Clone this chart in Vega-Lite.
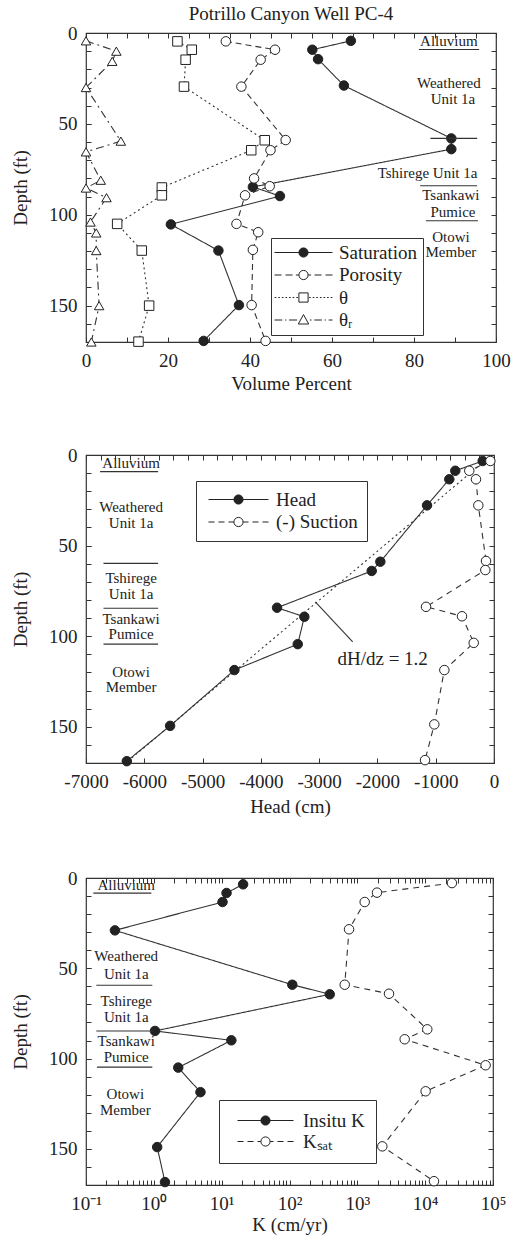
{
  "$schema": "https://vega.github.io/schema/vega-lite/v6.json",
  "background": "white",
  "padding": {"left": 10, "top": 4, "right": 20, "bottom": 0},
  "spacing": 51,
  "resolve": {"scale": {"fill": "independent", "shape": "independent"}, "legend": {"fill": "independent", "shape": "independent"}},
  "config": {
    "font": "Liberation Serif",
    "view": {"stroke": "#333", "strokeWidth": 1.2},
    "axis": {"grid": false, "domain": false, "tickColor": "#333", "tickSize": -5, "labelPadding": 14, "labelFontSize": 19, "labelColor": "#222", "labelFont": "Liberation Serif", "titleFont": "Liberation Serif", "titleFontSize": 19, "titleFontWeight": "normal", "titleColor": "#222", "labelFlush": false, "labelOverlap": false, "labelBound": false},
    "axisY": {"titlePadding": 18},
    "legend": {"labelFont": "Liberation Serif", "labelFontSize": 19, "labelColor": "#222", "strokeColor": "#333", "fillColor": "white", "symbolSize": 64, "symbolStrokeWidth": 1},
    "text": {"font": "Liberation Serif", "fontSize": 15, "color": "#222"}
  },
  "vconcat": [
    {
      "width": 410, "height": 309,
      "title": {"text": "Potrillo Canyon Well PC-4", "fontSize": 19, "fontWeight": "normal", "offset": 0, "color": "#222", "font": "Liberation Serif"},
      "resolve": {"axis": {"x": "independent", "y": "independent"}},
      "layer": [
        {
          "layer": [
            {
              "data": {"values": [
                {"s": "Saturation", "v": 64.6, "d": 4.3}, {"s": "Saturation", "v": 55.2, "d": 9.2}, {"s": "Saturation", "v": 56.6, "d": 14.4}, {"s": "Saturation", "v": 62.9, "d": 28.9}, {"s": "Saturation", "v": 89.1, "d": 58}, {"s": "Saturation", "v": 89.1, "d": 63.9}, {"s": "Saturation", "v": 40.7, "d": 84.7}, {"s": "Saturation", "v": 47.3, "d": 89.7}, {"s": "Saturation", "v": 20.7, "d": 105.3}, {"s": "Saturation", "v": 32.3, "d": 119.7}, {"s": "Saturation", "v": 37.3, "d": 149.7}, {"s": "Saturation", "v": 28.7, "d": 169.4},
                {"s": "Porosity", "v": 34.1, "d": 4.6}, {"s": "Porosity", "v": 46.1, "d": 9.2}, {"s": "Porosity", "v": 42.6, "d": 14.7}, {"s": "Porosity", "v": 37.9, "d": 29.5}, {"s": "Porosity", "v": 48.7, "d": 58.9}, {"s": "Porosity", "v": 45, "d": 64.5}, {"s": "Porosity", "v": 41, "d": 80}, {"s": "Porosity", "v": 44.8, "d": 84.3}, {"s": "Porosity", "v": 38.8, "d": 89.3}, {"s": "Porosity", "v": 36.7, "d": 105}, {"s": "Porosity", "v": 42, "d": 109.6}, {"s": "Porosity", "v": 40.7, "d": 119.3}, {"s": "Porosity", "v": 40.4, "d": 149.7}, {"s": "Porosity", "v": 43.8, "d": 169.4},
                {"s": "θ", "v": 22.3, "d": 4.6}, {"s": "θ", "v": 25.8, "d": 9.2}, {"s": "θ", "v": 24.3, "d": 14.7}, {"s": "θ", "v": 23.9, "d": 29.5}, {"s": "θ", "v": 43.6, "d": 59}, {"s": "θ", "v": 40.3, "d": 64.5}, {"s": "θ", "v": 18.5, "d": 85}, {"s": "θ", "v": 18.5, "d": 89.3}, {"s": "θ", "v": 7.6, "d": 105}, {"s": "θ", "v": 13.6, "d": 119.7}, {"s": "θ", "v": 15.4, "d": 150}, {"s": "θ", "v": 12.8, "d": 169.8},
                {"s": "θᵣ", "v": 0, "d": 4.3}, {"s": "θᵣ", "v": 7.4, "d": 10}, {"s": "θᵣ", "v": 6.4, "d": 15.6}, {"s": "θᵣ", "v": 0, "d": 30}, {"s": "θᵣ", "v": 8.5, "d": 59.5}, {"s": "θᵣ", "v": 0, "d": 65.4}, {"s": "θᵣ", "v": 3.6, "d": 81}, {"s": "θᵣ", "v": 0, "d": 85.3}, {"s": "θᵣ", "v": 5, "d": 90.6}, {"s": "θᵣ", "v": 1.1, "d": 104}, {"s": "θᵣ", "v": 2.5, "d": 110}, {"s": "θᵣ", "v": 2.5, "d": 119.7}, {"s": "θᵣ", "v": 3.2, "d": 150}, {"s": "θᵣ", "v": 1.3, "d": 170}
              ]},
              "layer": [
                {
                  "mark": {"type": "line", "strokeWidth": 1.1, "color": "#333"},
                  "encoding": {
                    "x": {"field": "v", "type": "quantitative", "scale": {"domain": [0, 100], "nice": false, "zero": false}, "axis": {"orient": "bottom", "title": "Volume Percent", "values": [0,5,10,15,20,25,30,35,40,45,50,55,60,65,70,75,80,85,90,95,100], "labelExpr": "datum.value % 20 === 0 ? datum.label : ''"}},
                    "y": {"field": "d", "type": "quantitative", "scale": {"domain": [0, 170], "reverse": true, "nice": false, "zero": false}, "axis": {"orient": "left", "title": "Depth (ft)", "values": [0, 50, 100, 150]}},
                    "detail": {"field": "s"},
                    "order": {"field": "d", "type": "quantitative"},
                    "strokeDash": {"condition": [
                      {"test": "datum.s === 'Porosity'", "value": [6, 4]},
                      {"test": "datum.s === 'θ'", "value": [2, 3]},
                      {"test": "datum.s === 'θᵣ'", "value": [8, 4, 2, 4]}
                    ], "value": [1, 0]}
                  }
                },
                {
                  "mark": {"type": "point", "size": 90, "strokeWidth": 1, "stroke": "#222", "opacity": 1},
                  "encoding": {
                    "x": {"field": "v", "type": "quantitative"},
                    "y": {"field": "d", "type": "quantitative"},
                    "shape": {"condition": [
                      {"test": "datum.s === 'θ'", "value": "square"},
                      {"test": "datum.s === 'θᵣ'", "value": "triangle-up"}
                    ], "value": "circle"},
                    "fill": {"condition": {"test": "datum.s === 'Saturation'", "value": "#222"}, "value": "white"}
                  }
                }
              ]
            },
            {
              "data": {"values": [{"s": "Saturation"}, {"s": "Porosity"}, {"s": "θ"}, {"s": "θᵣ"}]},
              "transform": [{"filter": "false"}],
              "mark": {"type": "point", "stroke": "#222", "strokeWidth": 1, "opacity": 1},
              "encoding": {
                "shape": {"field": "s", "type": "nominal", "scale": {"domain": ["Saturation", "Porosity", "θ", "θᵣ"], "range": [
                  "M-7.25,0H-1.15M1.15,0H7.25M-1.15,0A1.15,1.15,0,1,1,1.15,0A1.15,1.15,0,1,1,-1.15,0Z",
                  "M-7.25,0H-5.5M-4.5,0H-2.75M-1.9,0H-1.15M1.15,0H1.9M2.75,0H4.5M5.5,0H7.25M-1.15,0A1.15,1.15,0,1,1,1.15,0A1.15,1.15,0,1,1,-1.15,0Z",
                  "M-7.2,0H-6.8M-6.3,0H-5.9M-5.4,0H-5M-4.5,0H-4.1M-3.6,0H-3.2M-2.7,0H-2.3M-1.8,0H-1.4M1.4,0H1.8M2.3,0H2.7M3.2,0H3.6M4.1,0H4.5M5,0H5.4M5.9,0H6.3M6.8,0H7.2M-1.15,-1.15H1.15V1.15H-1.15Z",
                  "M-7.25,0H-5.3M-4.6,0H-4.3M-3.6,0H-1.6M1.6,0H2M2.7,0H4.6M5.3,0H5.6M6.3,0H7.25M0,-1.35L1.3,1H-1.3Z"
                ]},
                  "legend": {"orient": "none", "legendX": 185, "legendY": 205, "title": null, "padding": 5, "rowPadding": 2.5, "symbolOffset": 18, "labelOffset": 26, "symbolSize": 64, "symbolStrokeWidth": 1, "symbolOpacity": 1,
                    "encode": {"symbols": {"stroke": {"value": "#222"}, "strokeWidth": {"value": 1}}}}},
                "fill": {"field": "s", "type": "nominal", "scale": {"domain": ["Saturation", "Porosity", "θ", "θᵣ"], "range": ["#222", "white", "white", "white"]},
                  "legend": {"orient": "none", "legendX": 185, "legendY": 205, "title": null, "padding": 5, "rowPadding": 2.5, "symbolOffset": 18, "labelOffset": 26, "symbolSize": 64, "symbolStrokeWidth": 1, "symbolOpacity": 1,
                    "encode": {"symbols": {"stroke": {"value": "#222"}, "strokeWidth": {"value": 1}}}}}
              }
            },
            {
              "data": {"values": [
                {"t": "Alluvium", "v": 88.5, "d": 4.2},
                {"t": "Weathered", "v": 88.5, "d": 27.6},
                {"t": "Unit 1a", "v": 89.5, "d": 36.3},
                {"t": "Tshirege Unit 1a", "v": 83.3, "d": 76.8},
                {"t": "Tsankawi", "v": 89, "d": 89.3},
                {"t": "Pumice", "v": 89.5, "d": 98.3},
                {"t": "Otowi", "v": 89, "d": 112},
                {"t": "Member", "v": 89, "d": 120.3}
              ]},
              "mark": {"type": "text", "align": "center", "baseline": "middle"},
              "encoding": {
                "x": {"field": "v", "type": "quantitative"},
                "y": {"field": "d", "type": "quantitative"},
                "text": {"field": "t"}
              }
            },
            {
              "data": {"values": [
                {"v": 81.2, "v2": 95.9, "d": 9.1},
                {"v": 81.5, "v2": 95.4, "d": 84},
                {"v": 82.9, "v2": 95.6, "d": 103.3},
                {"v": 84, "v2": 95.4, "d": 58}
              ]},
              "mark": {"type": "rule", "color": "#333", "strokeWidth": 1.1},
              "encoding": {
                "x": {"field": "v", "type": "quantitative"},
                "x2": {"field": "v2"},
                "y": {"field": "d", "type": "quantitative"}
              }
            }
          ]
        },
        {
          "data": {"values": [{"v": 0, "d": 0}]},
          "mark": {"type": "point", "opacity": 0},
          "encoding": {
            "x": {"field": "v", "type": "quantitative", "axis": {"orient": "top", "labels": false, "title": null, "values": [0,5,10,15,20,25,30,35,40,45,50,55,60,65,70,75,80,85,90,95,100]}},
            "y": {"field": "d", "type": "quantitative", "axis": {"orient": "right", "labels": false, "title": null, "values": [0,10,20,30,40,50,60,70,80,90,100,110,120,130,140,150,160,170]}}
          }
        },
        {
          "data": {"values": [{"d": 0}]},
          "mark": {"type": "point", "opacity": 0},
          "encoding": {
            "y": {"field": "d", "type": "quantitative", "axis": {"orient": "left", "labels": false, "title": null, "values": [0,10,20,30,40,50,60,70,80,90,100,110,120,130,140,150,160,170]}}
          }
        }
      ]
    },
    {
      "width": 408, "height": 308,
      "resolve": {"axis": {"x": "independent", "y": "independent"}},
      "layer": [
        {
          "layer": [
            {
              "data": {"values": [{"v": -150, "d": 3}, {"v": -6300, "d": 169.5}]},
              "mark": {"type": "line", "strokeWidth": 1.1, "color": "#333", "strokeDash": [2, 3]},
              "encoding": {
                "x": {"field": "v", "type": "quantitative", "scale": {"domain": [-7000, 0], "nice": false, "zero": false}, "axis": {"orient": "bottom", "title": "Head (cm)", "titlePadding": 6, "values": [-7000,-6750,-6500,-6250,-6000,-5750,-5500,-5250,-5000,-4750,-4500,-4250,-4000,-3750,-3500,-3250,-3000,-2750,-2500,-2250,-2000,-1750,-1500,-1250,-1000,-750,-500,-250,0], "labelExpr": "datum.value % 1000 === 0 ? '' + datum.value : ''"}},
                "y": {"field": "d", "type": "quantitative", "scale": {"domain": [0, 170], "reverse": true, "nice": false, "zero": false}, "axis": {"orient": "left", "title": "Depth (ft)", "values": [0, 50, 100, 150]}},
                "order": {"field": "d", "type": "quantitative"}
              }
            },
            {
              "data": {"values": [
                {"s": "Head", "v": -194, "d": 3.3}, {"s": "Head", "v": -664, "d": 8.7}, {"s": "Head", "v": -767, "d": 13.4}, {"s": "Head", "v": -1149, "d": 27.8}, {"s": "Head", "v": -1950, "d": 58.9}, {"s": "Head", "v": -2098, "d": 64}, {"s": "Head", "v": -3722, "d": 84.3}, {"s": "Head", "v": -3254, "d": 89.3}, {"s": "Head", "v": -3367, "d": 104.4}, {"s": "Head", "v": -4454, "d": 118.7}, {"s": "Head", "v": -5557, "d": 149.5}, {"s": "Head", "v": -6300, "d": 169},
                {"s": "(-) Suction", "v": -63, "d": 3.3}, {"s": "(-) Suction", "v": -424, "d": 8.7}, {"s": "(-) Suction", "v": -309, "d": 13.4}, {"s": "(-) Suction", "v": -269, "d": 27.8}, {"s": "(-) Suction", "v": -137, "d": 58.5}, {"s": "(-) Suction", "v": -149, "d": 63.5}, {"s": "(-) Suction", "v": -1166, "d": 83.8}, {"s": "(-) Suction", "v": -549, "d": 89}, {"s": "(-) Suction", "v": -348, "d": 103.7}, {"s": "(-) Suction", "v": -852, "d": 118.7}, {"s": "(-) Suction", "v": -1024, "d": 148.7}, {"s": "(-) Suction", "v": -1183, "d": 168.4}
              ]},
              "layer": [
                {
                  "mark": {"type": "line", "strokeWidth": 1.1, "color": "#333"},
                  "encoding": {
                    "x": {"field": "v", "type": "quantitative"},
                    "y": {"field": "d", "type": "quantitative"},
                    "detail": {"field": "s"},
                    "order": {"field": "d", "type": "quantitative"},
                    "strokeDash": {"condition": {"test": "datum.s === '(-) Suction'", "value": [6, 5]}, "value": [1, 0]}
                  }
                },
                {
                  "mark": {"type": "point", "size": 90, "strokeWidth": 1, "stroke": "#222", "opacity": 1, "shape": "circle"},
                  "encoding": {
                    "x": {"field": "v", "type": "quantitative"},
                    "y": {"field": "d", "type": "quantitative"},
                    "fill": {"condition": {"test": "datum.s === 'Head'", "value": "#222"}, "value": "white"}
                  }
                }
              ]
            },
            {
              "data": {"values": [{"s": "Head"}, {"s": "(-) Suction"}]},
              "transform": [{"filter": "false"}],
              "mark": {"type": "point", "stroke": "#222", "strokeWidth": 1, "opacity": 1},
              "encoding": {
                "shape": {"field": "s", "type": "nominal", "scale": {"domain": ["Head", "(-) Suction"], "range": [
                  "M-7.5,0H-1.15M1.15,0H7.5M-1.15,0A1.15,1.15,0,1,1,1.15,0A1.15,1.15,0,1,1,-1.15,0Z",
                  "M-7.5,0H-6M-5,0H-3.5M-2.5,0H-1.15M1.15,0H2.5M3.5,0H5M6,0H7.5M-1.15,0A1.15,1.15,0,1,1,1.15,0A1.15,1.15,0,1,1,-1.15,0Z"
                ]},
                  "legend": {"orient": "none", "legendX": 110, "legendY": 26, "title": null, "padding": 9, "rowPadding": 2.5, "symbolOffset": 24, "labelOffset": 28, "symbolSize": 64, "symbolStrokeWidth": 1, "symbolOpacity": 1,
                    "encode": {"symbols": {"stroke": {"value": "#222"}, "strokeWidth": {"value": 1}}}}},
                "fill": {"field": "s", "type": "nominal", "scale": {"domain": ["Head", "(-) Suction"], "range": ["#222", "white"]},
                  "legend": {"orient": "none", "legendX": 110, "legendY": 26, "title": null, "padding": 9, "rowPadding": 2.5, "symbolOffset": 24, "labelOffset": 28, "symbolSize": 64, "symbolStrokeWidth": 1, "symbolOpacity": 1,
                    "encode": {"symbols": {"stroke": {"value": "#222"}, "strokeWidth": {"value": 1}}}}}
              }
            },
            {
              "data": {"values": [
                {"t": "Alluvium", "v": -6226, "d": 4.3},
                {"t": "Weathered", "v": -6226, "d": 28.6},
                {"t": "Unit 1a", "v": -6226, "d": 37.7},
                {"t": "Tshirege", "v": -6226, "d": 68},
                {"t": "Unit 1a", "v": -6226, "d": 76.5},
                {"t": "Tsankawi", "v": -6226, "d": 90.7},
                {"t": "Pumice", "v": -6226, "d": 99},
                {"t": "Otowi", "v": -6226, "d": 119.6},
                {"t": "Member", "v": -6226, "d": 128.3}
              ]},
              "mark": {"type": "text", "align": "center", "baseline": "middle"},
              "encoding": {
                "x": {"field": "v", "type": "quantitative"},
                "y": {"field": "d", "type": "quantitative"},
                "text": {"field": "t"}
              }
            },
            {
              "data": {"values": [{"t": "dH/dz = 1.2", "v": -1910, "d": 112.8}]},
              "mark": {"type": "text", "align": "center", "baseline": "middle", "fontSize": 19},
              "encoding": {
                "x": {"field": "v", "type": "quantitative"},
                "y": {"field": "d", "type": "quantitative"},
                "text": {"field": "t"}
              }
            },
            {
              "data": {"values": [
                {"v": -6758, "v2": -5763, "d": 9.2},
                {"v": -6700, "v2": -5763, "d": 59.8},
                {"v": -6700, "v2": -5763, "d": 84.6},
                {"v": -6700, "v2": -5763, "d": 104.4}
              ]},
              "mark": {"type": "rule", "color": "#333", "strokeWidth": 1.1},
              "encoding": {
                "x": {"field": "v", "type": "quantitative"},
                "x2": {"field": "v2"},
                "y": {"field": "d", "type": "quantitative"}
              }
            },
            {
              "data": {"values": [{"v": -2424, "d": 103.1, "v2": -3065, "d2": 81}]},
              "mark": {"type": "rule", "color": "#333", "strokeWidth": 1.1},
              "encoding": {
                "x": {"field": "v", "type": "quantitative"},
                "x2": {"field": "v2"},
                "y": {"field": "d", "type": "quantitative"},
                "y2": {"field": "d2"}
              }
            }
          ]
        },
        {
          "data": {"values": [{"v": 0, "d": 0}]},
          "mark": {"type": "point", "opacity": 0},
          "encoding": {
            "x": {"field": "v", "type": "quantitative", "axis": {"orient": "top", "labels": false, "title": null, "values": [-7000,-6750,-6500,-6250,-6000,-5750,-5500,-5250,-5000,-4750,-4500,-4250,-4000,-3750,-3500,-3250,-3000,-2750,-2500,-2250,-2000,-1750,-1500,-1250,-1000,-750,-500,-250,0]}},
            "y": {"field": "d", "type": "quantitative", "axis": {"orient": "right", "labels": false, "title": null, "values": [0,10,20,30,40,50,60,70,80,90,100,110,120,130,140,150,160,170]}}
          }
        },
        {
          "data": {"values": [{"d": 0}]},
          "mark": {"type": "point", "opacity": 0},
          "encoding": {
            "y": {"field": "d", "type": "quantitative", "axis": {"orient": "left", "labels": false, "title": null, "values": [0,10,20,30,40,50,60,70,80,90,100,110,120,130,140,150,160,170]}}
          }
        }
      ]
    },
    {
      "width": 407, "height": 307,
      "resolve": {"axis": {"x": "independent", "y": "independent"}},
      "layer": [
        {
          "layer": [
            {
              "data": {"values": [
                {"s": "Insitu K", "v": 20.7, "d": 3.5}, {"s": "Insitu K", "v": 11.8, "d": 8.3}, {"s": "Insitu K", "v": 10.3, "d": 13.3}, {"s": "Insitu K", "v": 0.267, "d": 29}, {"s": "Insitu K", "v": 110, "d": 59.1}, {"s": "Insitu K", "v": 392, "d": 64.4}, {"s": "Insitu K", "v": 1.04, "d": 84.7}, {"s": "Insitu K", "v": 13.9, "d": 89.9}, {"s": "Insitu K", "v": 2.29, "d": 105}, {"s": "Insitu K", "v": 4.87, "d": 118.6}, {"s": "Insitu K", "v": 1.12, "d": 149}, {"s": "Insitu K", "v": 1.46, "d": 168.4},
                {"s": "Kₛₐₜ", "v": 24800, "d": 2.8}, {"s": "Kₛₐₜ", "v": 1950, "d": 8.1}, {"s": "Kₛₐₜ", "v": 1284, "d": 13.3}, {"s": "Kₛₐₜ", "v": 755, "d": 28.4}, {"s": "Kₛₐₜ", "v": 652, "d": 59.1}, {"s": "Kₛₐₜ", "v": 2930, "d": 64.1}, {"s": "Kₛₐₜ", "v": 10740, "d": 83.8}, {"s": "Kₛₐₜ", "v": 4990, "d": 89.3}, {"s": "Kₛₐₜ", "v": 77800, "d": 103.7}, {"s": "Kₛₐₜ", "v": 10160, "d": 118.1}, {"s": "Kₛₐₜ", "v": 2335, "d": 148.6}, {"s": "Kₛₐₜ", "v": 13490, "d": 167.9}
              ]},
              "layer": [
                {
                  "mark": {"type": "line", "strokeWidth": 1.1, "color": "#333"},
                  "encoding": {
                    "x": {"field": "v", "type": "quantitative", "scale": {"type": "log", "domain": [0.1, 100000], "nice": false}, "axis": {"orient": "bottom", "title": "K (cm/yr)", "titlePadding": 2, "values": [0.1,0.2,0.3,0.4,0.5,0.6,0.7,0.8,0.9,1,2,3,4,5,6,7,8,9,10,20,30,40,50,60,70,80,90,100,200,300,400,500,600,700,800,900,1000,2000,3000,4000,5000,6000,7000,8000,9000,10000,20000,30000,40000,50000,60000,70000,80000,90000,100000], "labelExpr": "datum.value === 0.1 ? '10⁻¹' : datum.value === 1 ? '10⁰' : datum.value === 10 ? '10¹' : datum.value === 100 ? '10²' : datum.value === 1000 ? '10³' : datum.value === 10000 ? '10⁴' : datum.value === 100000 ? '10⁵' : ''"}},
                    "y": {"field": "d", "type": "quantitative", "scale": {"domain": [0, 170], "reverse": true, "nice": false, "zero": false}, "axis": {"orient": "left", "title": "Depth (ft)", "values": [0, 50, 100, 150]}},
                    "detail": {"field": "s"},
                    "order": {"field": "d", "type": "quantitative"},
                    "strokeDash": {"condition": {"test": "datum.s === 'Kₛₐₜ'", "value": [6, 5]}, "value": [1, 0]}
                  }
                },
                {
                  "mark": {"type": "point", "size": 90, "strokeWidth": 1, "stroke": "#222", "opacity": 1, "shape": "circle"},
                  "encoding": {
                    "x": {"field": "v", "type": "quantitative"},
                    "y": {"field": "d", "type": "quantitative"},
                    "fill": {"condition": {"test": "datum.s === 'Insitu K'", "value": "#222"}, "value": "white"}
                  }
                }
              ]
            },
            {
              "data": {"values": [{"s": "Insitu K"}, {"s": "Kₛₐₜ"}]},
              "transform": [{"filter": "false"}],
              "mark": {"type": "point", "stroke": "#222", "strokeWidth": 1, "opacity": 1},
              "encoding": {
                "shape": {"field": "s", "type": "nominal", "scale": {"domain": ["Insitu K", "Kₛₐₜ"], "range": [
                  "M-7,0H-1.15M1.15,0H7M-1.15,0A1.15,1.15,0,1,1,1.15,0A1.15,1.15,0,1,1,-1.15,0Z",
                  "M-7,0H-5.5M-4.5,0H-3M-2,0H-1.15M1.15,0H2M3,0H4.5M5.5,0H7M-1.15,0A1.15,1.15,0,1,1,1.15,0A1.15,1.15,0,1,1,-1.15,0Z"
                ]},
                  "legend": {"orient": "none", "legendX": 133, "legendY": 222, "title": null, "padding": 11, "rowPadding": 1, "symbolOffset": 26, "labelOffset": 28, "symbolSize": 64, "symbolStrokeWidth": 1, "symbolOpacity": 1,
                    "encode": {"symbols": {"stroke": {"value": "#222"}, "strokeWidth": {"value": 1}}}}},
                "fill": {"field": "s", "type": "nominal", "scale": {"domain": ["Insitu K", "Kₛₐₜ"], "range": ["#222", "white"]},
                  "legend": {"orient": "none", "legendX": 133, "legendY": 222, "title": null, "padding": 11, "rowPadding": 1, "symbolOffset": 26, "labelOffset": 28, "symbolSize": 64, "symbolStrokeWidth": 1, "symbolOpacity": 1,
                    "encode": {"symbols": {"stroke": {"value": "#222"}, "strokeWidth": {"value": 1}}}}}
              }
            },
            {
              "data": {"values": [
                {"t": "Alluvium", "v": 0.392, "d": 4},
                {"t": "Weathered", "v": 0.392, "d": 43.2},
                {"t": "Unit 1a", "v": 0.392, "d": 53},
                {"t": "Tshirege", "v": 0.392, "d": 68.1},
                {"t": "Unit 1a", "v": 0.392, "d": 77},
                {"t": "Tsankawi", "v": 0.392, "d": 90.4},
                {"t": "Pumice", "v": 0.392, "d": 99.1},
                {"t": "Otowi", "v": 0.38, "d": 119.6},
                {"t": "Member", "v": 0.38, "d": 128.6}
              ]},
              "mark": {"type": "text", "align": "center", "baseline": "middle"},
              "encoding": {
                "x": {"field": "v", "type": "quantitative"},
                "y": {"field": "d", "type": "quantitative"},
                "text": {"field": "t"}
              }
            },
            {
              "data": {"values": [
                {"v": 0.128, "v2": 0.92, "d": 8.4},
                {"v": 0.142, "v2": 0.95, "d": 59.4},
                {"v": 0.142, "v2": 0.98, "d": 84.7},
                {"v": 0.145, "v2": 0.95, "d": 104.7}
              ]},
              "mark": {"type": "rule", "color": "#333", "strokeWidth": 1.1},
              "encoding": {
                "x": {"field": "v", "type": "quantitative"},
                "x2": {"field": "v2"},
                "y": {"field": "d", "type": "quantitative"}
              }
            }
          ]
        },
        {
          "data": {"values": [{"v": 1, "d": 0}]},
          "mark": {"type": "point", "opacity": 0},
          "encoding": {
            "x": {"field": "v", "type": "quantitative", "axis": {"orient": "top", "labels": false, "title": null, "values": [0.1,0.2,0.3,0.4,0.5,0.6,0.7,0.8,0.9,1,2,3,4,5,6,7,8,9,10,20,30,40,50,60,70,80,90,100,200,300,400,500,600,700,800,900,1000,2000,3000,4000,5000,6000,7000,8000,9000,10000,20000,30000,40000,50000,60000,70000,80000,90000,100000]}},
            "y": {"field": "d", "type": "quantitative", "axis": {"orient": "right", "labels": false, "title": null, "values": [0,10,20,30,40,50,60,70,80,90,100,110,120,130,140,150,160,170]}}
          }
        },
        {
          "data": {"values": [{"d": 0}]},
          "mark": {"type": "point", "opacity": 0},
          "encoding": {
            "y": {"field": "d", "type": "quantitative", "axis": {"orient": "left", "labels": false, "title": null, "values": [0,10,20,30,40,50,60,70,80,90,100,110,120,130,140,150,160,170]}}
          }
        }
      ]
    }
  ]
}
